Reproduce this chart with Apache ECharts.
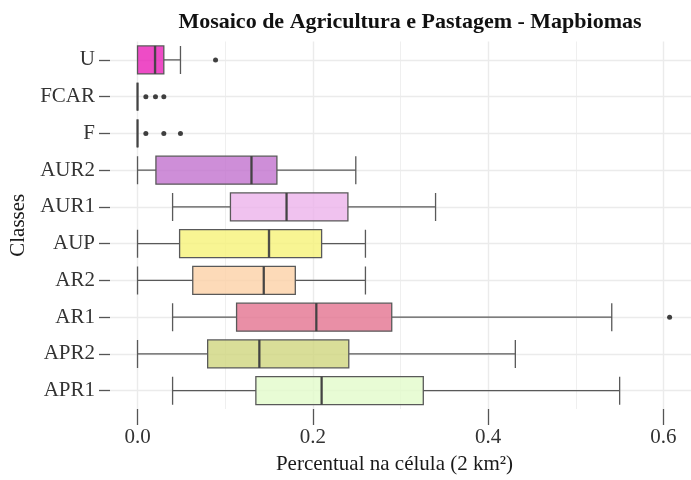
<!DOCTYPE html>
<html>
<head>
<meta charset="utf-8">
<script src="https://cdn.jsdelivr.net/npm/echarts@6/dist/echarts.min.js"></script>
<style>html,body{margin:0;padding:0;background:#fff}#c{width:691px;height:480px}</style>
</head>
<body>
<div id="c"></div>
<script>
// Categories (bottom to top)
const categories = ['APR1','APR2','AR1','AR2','AUP','AUR1','AUR2','F','FCAR','U'];
// [min, Q1, median, Q3, max]
const boxAPR1 = [0.040, 0.135, 0.210, 0.326, 0.550];
const boxAPR2 = [0.000, 0.080, 0.139, 0.241, 0.431];
const boxAR1  = [0.040, 0.113, 0.204, 0.290, 0.541];
const boxAR2  = [0.000, 0.063, 0.144, 0.180, 0.260];
const boxAUP  = [0.000, 0.048, 0.150, 0.210, 0.260];
const boxAUR1 = [0.040, 0.106, 0.170, 0.240, 0.340];
const boxAUR2 = [0.000, 0.021, 0.130, 0.159, 0.249];
const boxF    = [0, 0, 0, 0, 0];
const boxFCAR = [0, 0, 0, 0, 0];
const boxU    = [0.000, 0.000, 0.020, 0.030, 0.049];
// outliers per category
const outU    = [0.089];
const outFCAR = [0.0095, 0.0205, 0.030];
const outF    = [0.0095, 0.030, 0.049];
const outAR1  = [0.607];
// fill colours per category
const fillColors = ['#E2FBCB','#D0D67E','#E47390','#FDD1A6','#F6F378','#ECB3EB','#C272CE','#EA1FB8','#EA1FB8','#EA1FB8'];
// axis ticks
const xMajorTicks = [0, 0.2, 0.4, 0.6];
const xMinorTicks = [0.1, 0.3, 0.5];

const boxes = [boxAPR1, boxAPR2, boxAR1, boxAR2, boxAUP, boxAUR1, boxAUR2, boxF, boxFCAR, boxU];
const outliers = [];
outU.forEach(v => outliers.push([v, 'U']));
outFCAR.forEach(v => outliers.push([v, 'FCAR']));
outF.forEach(v => outliers.push([v, 'F']));
outAR1.forEach(v => outliers.push([v, 'AR1']));

function hexA(h, a) {
  const r = parseInt(h.slice(1,3),16), g = parseInt(h.slice(3,5),16), b = parseInt(h.slice(5,7),16);
  return 'rgba(' + r + ',' + g + ',' + b + ',' + a + ')';
}

const boxData = boxes.map((b, i) => ({
  value: b,
  itemStyle: { color: hexA(fillColors[i], 0.8), borderColor: '#595959', borderWidth: 1.3 }
}));
const medianData = boxes.map((b, i) => [b[2], categories[i]]);

const gridColor = '#ebebeb';
const markData = []
  .concat(xMajorTicks.map(v => ({ xAxis: v, lineStyle: { color: gridColor, width: 1.4, type: 'solid' } })))
  .concat(xMinorTicks.map(v => ({ xAxis: v, lineStyle: { color: gridColor, width: 0.8, type: 'solid' } })))
  .concat(categories.map(c => ({ yAxis: c, lineStyle: { color: gridColor, width: 1.4, type: 'solid' } })));

const serif = '"Liberation Serif", "DejaVu Serif", serif';
const chart = echarts.init(document.getElementById('c'));
chart.setOption({
  animation: false,
  backgroundColor: '#fff',
  title: {
    text: 'Mosaico de Agricultura e Pastagem - Mapbiomas',
    left: 405, top: 6, textAlign: 'center',
    textStyle: { fontFamily: serif, fontWeight: 'bold', fontSize: 22, color: '#111' }
  },
  grid: { left: 110, right: 0, top: 41.5, bottom: 69.2, containLabel: false },
  xAxis: {
    type: 'value', min: -0.0314, max: 0.6314,
    name: 'Percentual na célula (2 km²)', nameLocation: 'middle', nameGap: 45,
    nameTextStyle: { fontFamily: serif, fontSize: 21, color: '#1a1a1a', padding: [0, 12, 0, 0] },
    axisLine: { show: false, onZero: false },
    axisTick: { show: true, customValues: xMajorTicks, length: 16, lineStyle: { color: '#555', width: 1.3 } },
    axisLabel: { customValues: xMajorTicks, margin: 18, fontFamily: serif, fontSize: 21, color: '#333',
      formatter: v => Number(v).toFixed(1) },
    splitLine: { show: false }
  },
  yAxis: {
    type: 'category', data: categories,
    name: 'Classes', nameLocation: 'middle', nameGap: 76, nameRotate: 90,
    nameTextStyle: { fontFamily: serif, fontSize: 21, color: '#1a1a1a' },
    axisLine: { show: false, onZero: false },
    axisTick: { show: true, alignWithLabel: true, length: 11, lineStyle: { color: '#555', width: 1.3 } },
    axisLabel: { margin: 15, fontFamily: serif, fontSize: 21, color: '#333' },
    splitLine: { show: false }
  },
  series: [
    {
      type: 'boxplot', z: 3,
      boxWidth: [28, 28],
      data: boxData
    },
    {
      type: 'scatter', z: 4, symbol: 'rect', symbolSize: [2.4, 28],
      itemStyle: { color: '#3d3d3d' },
      data: medianData, silent: true
    },
    {
      type: 'scatter', z: 4, symbolSize: 5,
      itemStyle: { color: '#111' },
      data: outliers, silent: true,
      markLine: {
        z: 1, silent: true, symbol: 'none', label: { show: false },
        emphasis: { disabled: true },
        data: markData
      }
    }
  ]
});
</script>
</body>
</html>
